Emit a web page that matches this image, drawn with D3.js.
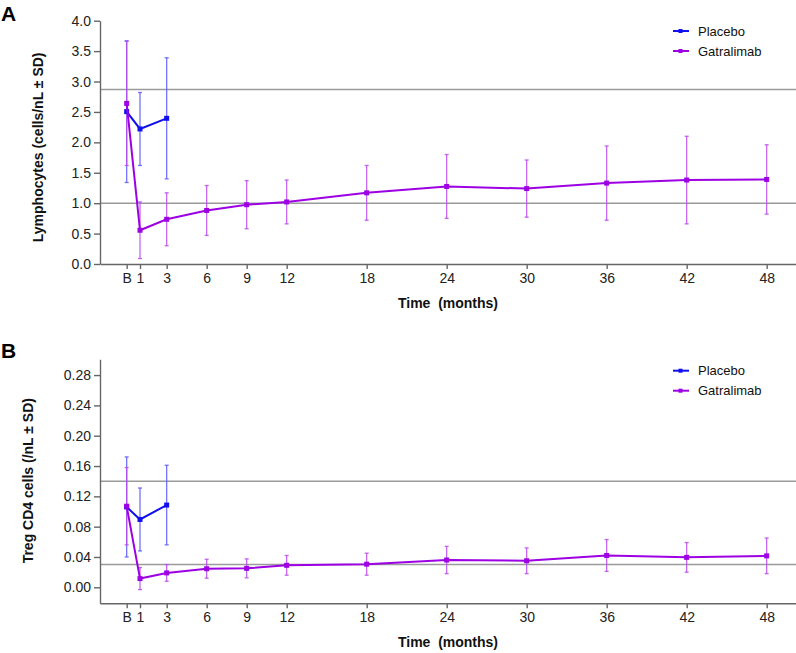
<!DOCTYPE html>
<html>
<head>
<meta charset="utf-8">
<script src="https://cdn.jsdelivr.net/npm/d3@7"></script>
<style>
  body { margin: 0; background: #fff; }
  svg { display: block; font-family: Arial, "Liberation Sans", sans-serif; }
  .tick text { font-size: 14px; fill: #222; }
  .axis path, .axis line { stroke: #666; stroke-width: 1.4; }
</style>
</head>
<body>
<div id="chart"></div>
<script>
// Data
var months = [0, 1, 3, 6, 9, 12, 18, 24, 30, 36, 42, 48];
var monthLabels = ["B", "1", "3", "6", "9", "12", "18", "24", "30", "36", "42", "48"];
var placeboMonths = [0, 1, 3];

// Panel A: lymphocytes (cells/nL), mean and SD
var lymphPlaceboMean = [2.505, 2.22, 2.395];
var lymphPlaceboSD = [1.165, 0.60, 0.995];
var lymphGatMean = [2.64, 0.555, 0.735, 0.88, 0.975, 1.02, 1.17, 1.275, 1.24, 1.33, 1.38, 1.39];
var lymphGatSD = [1.02, 0.465, 0.435, 0.41, 0.395, 0.36, 0.45, 0.525, 0.47, 0.61, 0.72, 0.57];
var lymphRefLines = [2.87, 1.0];
var lymphTicks = [0, 0.5, 1, 1.5, 2, 2.5, 3, 3.5, 4];

// Panel B: Treg CD4 cells (/nL), mean and SD
var tregPlaceboMean = [0.106, 0.0895, 0.1085];
var tregPlaceboSD = [0.066, 0.0415, 0.0525];
var tregGatMean = [0.107, 0.0115, 0.019, 0.0245, 0.025, 0.029, 0.0305, 0.036, 0.035, 0.042, 0.0395, 0.0415];
var tregGatSD = [0.051, 0.0145, 0.011, 0.0125, 0.0125, 0.013, 0.0145, 0.018, 0.017, 0.021, 0.0195, 0.0235];
var tregRefLines = [0.14, 0.03];
var tregTicks = [0, 0.04, 0.08, 0.12, 0.16, 0.20, 0.24, 0.28];

var seriesNames = ["Placebo", "Gatralimab"];
var colors = { Placebo: "#1010ee", Gatralimab: "#9d00e3" };
var barColors = { Placebo: "#5a5aff", Gatralimab: "#b84cf0" };

var svgWidth = 796;
var svgHeight = 653;

var svg = d3.select("#chart")
  .append("svg")
  .attr("width", svgWidth)
  .attr("height", svgHeight);

var xScale = d3.scaleLinear()
  .domain([-2, 50.2])
  .range([100, 796]);

function buildSeries(name, xs, means, sds) {
  return xs.map(function (m, i) {
    return { name: name, month: m, mean: means[i], sd: sds[i] };
  });
}

function drawPanel(opts) {
  var g = svg.append("g");
  var y = d3.scaleLinear().domain(opts.yDomain).range(opts.yRange);
  var xAxisY = opts.yRange[0];

  // reference lines
  g.selectAll(".ref")
    .data(opts.refLines)
    .enter()
    .append("line")
    .attr("x1", xScale.range()[0])
    .attr("x2", xScale.range()[1])
    .attr("y1", d => y(d))
    .attr("y2", d => y(d))
    .attr("stroke", "#9a9a9a")
    .attr("stroke-width", 1.6);

  // axes
  g.append("g")
    .attr("class", "axis")
    .attr("transform", `translate(0, ${xAxisY})`)
    .call(d3.axisBottom(xScale)
      .tickValues(months)
      .tickFormat((d, i) => monthLabels[i])
      .tickSize(5)
      .tickSizeOuter(0)
      .tickPadding(4));

  g.append("g")
    .attr("class", "axis")
    .attr("transform", `translate(${xScale.range()[0]}, 0)`)
    .call(d3.axisLeft(y)
      .tickValues(opts.yTicks)
      .tickFormat(d3.format(opts.tickFormat))
      .tickSize(6)
      .tickSizeOuter(0)
      .tickPadding(3));

  // axis labels
  g.append("text")
    .attr("transform", `translate(${opts.yLabelX}, ${(opts.yRange[0] + opts.yRange[1]) / 2 + opts.yLabelShift}) rotate(-90)`)
    .attr("text-anchor", "middle")
    .attr("dy", "0.35em")
    .attr("font-size", "14px")
    .attr("font-weight", "bold")
    .attr("fill", "#111")
    .text(opts.yLabel);

  g.append("text")
    .attr("x", (xScale.range()[0] + xScale.range()[1]) / 2)
    .attr("y", xAxisY + 44)
    .attr("text-anchor", "middle")
    .attr("font-size", "14px")
    .attr("font-weight", "bold")
    .attr("fill", "#111")
    .attr("xml:space", "preserve")
    .style("white-space", "pre")
    .text("Time  (months)");

  // panel letter
  g.append("text")
    .attr("x", 1)
    .attr("y", opts.letterY)
    .attr("font-size", "21px")
    .attr("font-weight", "bold")
    .attr("fill", "#000")
    .text(opts.letter);

  // error bars
  opts.series.forEach(function (s) {
    var bars = g.selectAll(null)
      .data(s)
      .enter()
      .append("g")
      .attr("stroke", d => barColors[d.name])
      .attr("stroke-opacity", 0.85)
      .attr("stroke-width", 1.3);
    bars.append("line")
      .attr("x1", d => xScale(d.month))
      .attr("x2", d => xScale(d.month))
      .attr("y1", d => y(d.mean - d.sd))
      .attr("y2", d => y(d.mean + d.sd));
    bars.append("line")
      .attr("x1", d => xScale(d.month) - 2)
      .attr("x2", d => xScale(d.month) + 2)
      .attr("y1", d => y(d.mean + d.sd))
      .attr("y2", d => y(d.mean + d.sd));
    bars.append("line")
      .attr("x1", d => xScale(d.month) - 2)
      .attr("x2", d => xScale(d.month) + 2)
      .attr("y1", d => y(d.mean - d.sd))
      .attr("y2", d => y(d.mean - d.sd));
  });

  // lines and markers
  var line = d3.line()
    .x(d => xScale(d.month))
    .y(d => y(d.mean));

  opts.series.forEach(function (s) {
    var name = s[0].name;
    g.append("path")
      .datum(s)
      .attr("fill", "none")
      .attr("stroke", colors[name])
      .attr("stroke-width", 2)
      .attr("d", line);
    g.selectAll(null)
      .data(s)
      .enter()
      .append("rect")
      .attr("x", d => xScale(d.month) - 2.5)
      .attr("y", d => y(d.mean) - 2.5)
      .attr("width", 5)
      .attr("height", 5)
      .attr("fill", colors[name]);
  });

  // legend
  var legend = g.selectAll(".legend")
    .data(seriesNames)
    .enter()
    .append("g")
    .attr("transform", (d, i) => `translate(673, ${opts.legendY + i * 20})`);
  legend.append("line")
    .attr("x1", 0)
    .attr("x2", 16)
    .attr("stroke", d => colors[d])
    .attr("stroke-width", 2);
  legend.append("rect")
    .attr("x", 5.5)
    .attr("y", -2)
    .attr("width", 4)
    .attr("height", 4)
    .attr("fill", d => colors[d]);
  legend.append("text")
    .attr("x", 25)
    .attr("dy", "0.35em")
    .attr("font-size", "13px")
    .attr("fill", "#111")
    .text(d => d);
}

drawPanel({
  letter: "A",
  letterY: 21,
  yDomain: [0, 4],
  yRange: [264, 20.7],
  yTicks: lymphTicks,
  tickFormat: ".1f",
  refLines: lymphRefLines,
  yLabel: "Lymphocytes (cells/nL ± SD)",
  yLabelX: 38,
  yLabelShift: 5,
  legendY: 31,
  series: [
    buildSeries("Placebo", placeboMonths, lymphPlaceboMean, lymphPlaceboSD),
    buildSeries("Gatralimab", months, lymphGatMean, lymphGatSD)
  ]
});

drawPanel({
  letter: "B",
  letterY: 358,
  yDomain: [-0.0211, 0.3008],
  yRange: [603.3, 359.3],
  yTicks: tregTicks,
  tickFormat: ".2f",
  refLines: tregRefLines,
  yLabel: "Treg CD4 cells (/nL ± SD)",
  yLabelX: 28,
  yLabelShift: -0.6,
  legendY: 370.7,
  series: [
    buildSeries("Placebo", placeboMonths, tregPlaceboMean, tregPlaceboSD),
    buildSeries("Gatralimab", months, tregGatMean, tregGatSD)
  ]
});
</script>
</body>
</html>
